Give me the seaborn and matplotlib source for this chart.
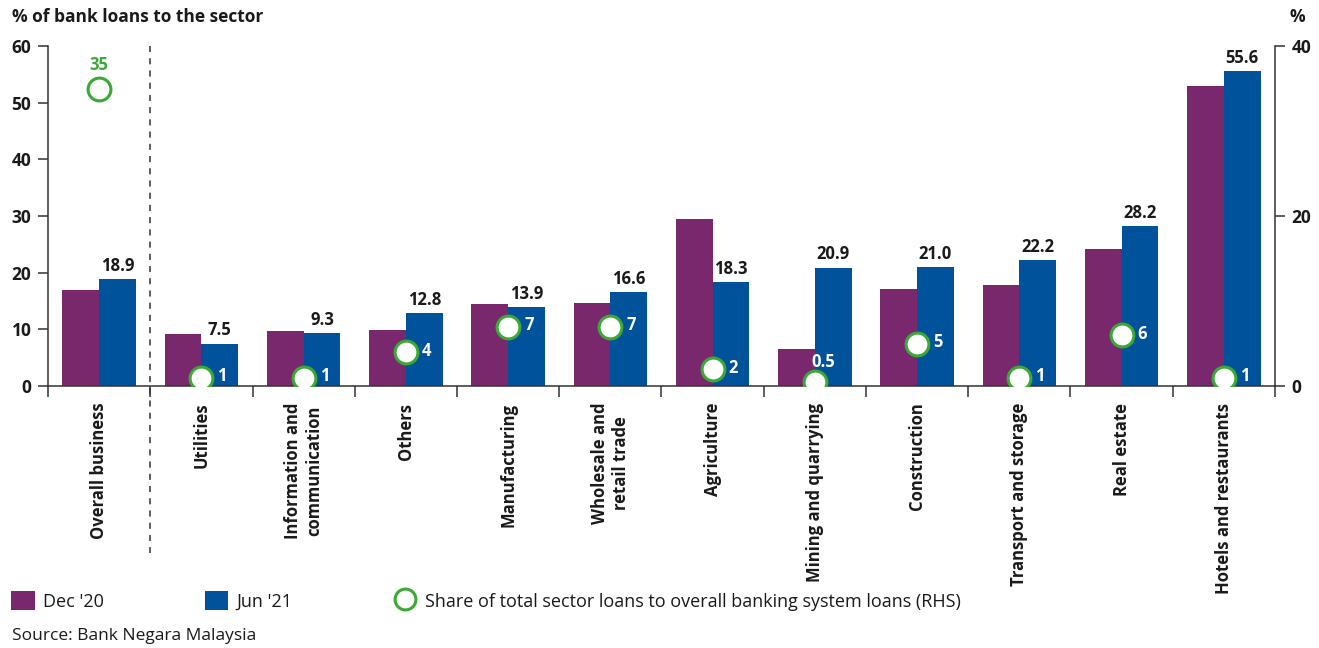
import numpy as np
import pandas as pd
import matplotlib
matplotlib.use("Agg")
import matplotlib.pyplot as plt
from matplotlib.patches import Patch
from matplotlib.lines import Line2D
from matplotlib.ticker import FixedLocator
import seaborn as sns

sectors = ["Overall business", "Utilities", "Information and\ncommunication", "Others",
           "Manufacturing", "Wholesale and\nretail trade", "Agriculture",
           "Mining and quarrying", "Construction", "Transport and storage",
           "Real estate", "Hotels and restaurants"]
dec20 = [16.9, 9.1, 9.7, 9.9, 14.4, 14.6, 29.5, 6.6, 17.1, 17.8, 24.2, 52.9]
jun21 = [18.9, 7.5, 9.3, 12.8, 13.9, 16.6, 18.3, 20.9, 21.0, 22.2, 28.2, 55.6]
share = [35, 1, 1, 4, 7, 7, 2, 0.5, 5, 1, 6, 1]
share_labels = ["35", "1", "1", "4", "7", "7", "2", "0.5", "5", "1", "6", "1"]
periods = ["Dec '20", "Jun '21"]

PURPLE = "#7A286E"
BLUE = "#00529B"
GREEN = "#3AA935"
INK = "#1a1a1a"

sns.set_theme(style="white")
plt.rcParams["font.family"] = ["Open Sans", "DejaVu Sans"]
plt.rcParams["axes.edgecolor"] = "#333333"

df = pd.DataFrame({
    "sector": sectors * 2,
    "period": [periods[0]] * len(sectors) + [periods[1]] * len(sectors),
    "value": dec20 + jun21,
})

fig = plt.figure(figsize=(13.19, 6.48), dpi=100)
ax = fig.add_axes([0.0364, 0.4043, 0.9302, 0.5247])

sns.barplot(data=df, x="sector", y="value", hue="period", hue_order=periods,
            palette=[PURPLE, BLUE], saturation=1, width=0.72, ax=ax,
            legend=False, edgecolor="none", linewidth=0)

ax.set_xlim(-0.5, len(sectors) - 0.5)
ax.set_ylim(0, 60)
ax.set_yticks([0, 10, 20, 30, 40, 50, 60])
ax.set_xlabel("")
ax.set_ylabel("")

# value labels above the Jun '21 bars
ax.bar_label(ax.containers[1], fmt="%.1f", padding=3, fontsize=12,
             fontweight="bold", color=INK)

# circles on the right-hand axis
ax2 = ax.twinx()
pos = np.arange(len(sectors))
sns.scatterplot(x=pos, y=share, ax=ax2, s=270, facecolor="white",
                edgecolor=GREEN, linewidth=2.2, zorder=5, legend=False)
ax2.set_ylim(0, 40)
ax2.set_yticks([0, 20, 40])
ax2.set_xlim(-0.5, len(sectors) - 0.5)

for i, (v, lab) in enumerate(zip(share, share_labels)):
    if i == 0:
        ax2.annotate(lab, (pos[i], v), xytext=(0, 17), textcoords="offset points",
                     ha="center", va="center", fontsize=12, fontweight="bold",
                     color=GREEN, zorder=6)
    elif lab == "0.5":
        ax2.annotate(lab, (pos[i], v), xytext=(6, 14), textcoords="offset points",
                     ha="center", va="center", fontsize=12, fontweight="bold",
                     color="white", zorder=6)
    else:
        ax2.annotate(lab, (pos[i], v), xytext=(11.5, 1), textcoords="offset points",
                     ha="left", va="center", fontsize=12, fontweight="bold",
                     color="white", zorder=6)

# spines and ticks
for a in (ax, ax2):
    a.spines["top"].set_visible(False)
    for s in ("left", "right", "bottom"):
        a.spines[s].set_linewidth(1.1)
        a.spines[s].set_color("#333333")
    a.grid(False)
ax.spines["right"].set_visible(False)
ax2.spines["left"].set_visible(False)
ax2.spines["bottom"].set_visible(False)

ax.tick_params(axis="y", which="major", direction="out", length=7, width=1.1,
               color="#333333", labelsize=12.5, pad=5, left=True)
ax2.tick_params(axis="y", which="major", direction="out", length=7, width=1.1,
                color="#333333", labelsize=12.5, pad=5, right=True)
for t in ax.get_yticklabels() + ax2.get_yticklabels():
    t.set_fontweight("bold")
    t.set_color(INK)

ax.set_xticks(pos)
ax.set_xticklabels(sectors, rotation=90, fontsize=12, fontweight="bold",
                   color=INK, ha="center", va="top", linespacing=1.2)
ax.tick_params(axis="x", which="major", length=0, pad=12)
ax.xaxis.set_minor_locator(FixedLocator(np.arange(len(sectors) + 1) - 0.5))
ax.tick_params(axis="x", which="minor", direction="out", length=8, width=1.1,
               color="#333333", bottom=True)

# divider between overall business and the sectors
ax.plot([0.5, 0.5], [1.0, -0.49], transform=ax.get_xaxis_transform(),
        color="#333333", lw=1.1, ls=(0, (4, 4)), clip_on=False, zorder=1)

# axis titles
fig.text(12 / 1319, 1 - 17 / 648, "% of bank loans to the sector", fontsize=12.5,
         fontweight="bold", color=INK, ha="left", va="center")
fig.text(1297 / 1319, 1 - 17 / 648, "%", fontsize=12.5, fontweight="bold",
         color=INK, ha="center", va="center")

# legend
handles = [
    Patch(facecolor=PURPLE, edgecolor="none", label=periods[0]),
    Patch(facecolor=BLUE, edgecolor="none", label=periods[1]),
    Line2D([], [], marker="o", linestyle="none", markersize=15,
           markerfacecolor="white", markeredgecolor=GREEN, markeredgewidth=2.2,
           label="Share of total sector loans to overall banking system loans (RHS)"),
]
fig.legend(handles=handles, loc="center left", bbox_to_anchor=(4 / 1319, 1 - 601 / 648),
           ncol=3, frameon=False, fontsize=13, handlelength=1.3, handleheight=1.25,
           handletextpad=0.45, columnspacing=5.6, borderaxespad=0, borderpad=0.4,
           labelcolor=INK)

fig.text(12 / 1319, 1 - 636 / 648, "Source: Bank Negara Malaysia", fontsize=12.5,
         color=INK, ha="left", va="center")

fig.savefig("out.png", dpi=100)
